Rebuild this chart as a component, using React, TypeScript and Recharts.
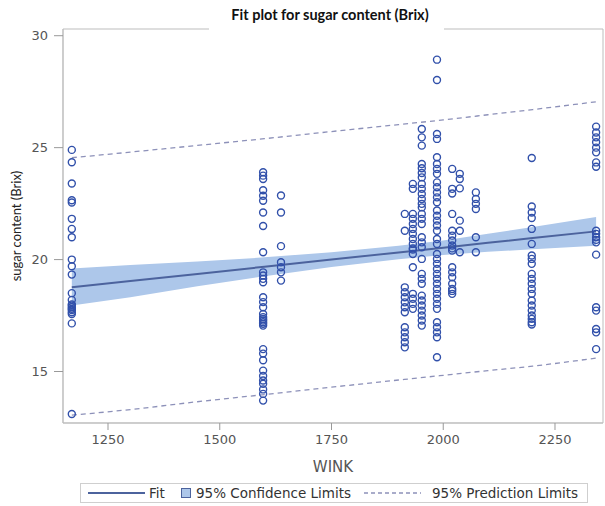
import React from "react";
import {
  ComposedChart,
  XAxis,
  YAxis,
  Area,
  Line,
  Scatter,
  ReferenceArea,
} from "recharts";

// Fitted line, confidence band and prediction limits at selected WINK values
const winkGrid = [1169, 1300, 1450, 1600, 1750, 1900, 2000, 2100, 2200, 2342];
const fitBrix = [18.76, 19.04, 19.36, 19.68, 20.0, 20.32, 20.53, 20.75, 20.96, 21.26];
const clLower = [17.95, 18.32, 18.81, 19.26, 19.67, 20.02, 20.21, 20.35, 20.46, 20.62];
const clUpper = [19.6, 19.76, 19.91, 20.1, 20.33, 20.62, 20.85, 21.15, 21.46, 21.9];
const plLower = [13.05, 13.3, 13.65, 13.97, 14.3, 14.62, 14.83, 15.04, 15.24, 15.6];
const plUpper = [24.55, 24.8, 25.1, 25.4, 25.72, 26.03, 26.24, 26.47, 26.7, 27.05];

// Observed sugar content (Brix) grouped by WINK value
const brix1169 = [24.9, 24.35, 23.4, 22.65, 22.55, 21.82, 21.37, 21.0, 20.0, 19.7, 19.33, 18.5, 18.2, 18.0, 17.95, 17.87, 17.8, 17.75, 17.65, 17.57, 17.15, 13.1];
const brix1597 = [23.9, 23.75, 23.6, 23.1, 22.85, 22.63, 22.1, 21.5, 20.33, 19.43, 19.29, 19.14, 18.99, 18.32, 18.1, 17.87, 17.57, 17.43, 17.35, 17.28, 17.2, 17.13, 17.05, 16.0, 15.8, 15.5, 15.04, 14.8, 14.6, 14.45, 14.2, 14.0, 13.7];
const brix1637 = [22.86, 22.1, 20.6, 19.88, 19.66, 19.43, 19.06];
const brix1914 = [22.04, 21.29, 18.76, 18.54, 18.32, 18.09, 17.87, 17.65, 16.98, 16.75, 16.53, 16.31, 16.08];
const brix1932 = [23.38, 23.16, 22.04, 21.82, 21.59, 21.37, 21.15, 20.92, 20.7, 20.5, 20.45, 20.25, 19.66, 18.47, 18.25, 18.02, 17.8];
const brix1952 = [25.83, 25.46, 25.09, 24.27, 24.08, 23.87, 23.67, 23.38, 23.16, 22.93, 22.71, 22.49, 22.33, 22.04, 21.82, 21.59, 21.0, 20.77, 20.55, 20.03, 19.36, 19.14, 18.92, 18.39, 18.17, 17.95, 17.72, 17.5, 17.28, 17.05];
const brix1986 = [28.93, 28.02, 25.61, 25.39, 24.57, 24.27, 24.05, 23.83, 23.45, 23.23, 23.0, 22.78, 22.56, 22.19, 21.96, 21.74, 21.52, 21.29, 20.92, 20.7, 20.25, 20.03, 19.81, 19.58, 19.36, 19.14, 18.92, 18.69, 18.47, 18.25, 18.02, 17.8, 17.2, 16.98, 16.75, 16.53, 15.64];
const brix2020 = [24.05, 23.16, 22.95, 22.04, 21.29, 21.07, 20.85, 20.63, 20.5, 20.4, 19.66, 19.43, 19.21, 18.92, 18.69, 18.6, 18.47];
const brix2037 = [23.83, 23.6, 23.18, 21.74, 21.29, 20.33];
const brix2073 = [23.0, 22.71, 22.49, 22.26, 21.0, 20.33];
const brix2198 = [24.54, 22.37, 22.1, 21.86, 21.37, 20.7, 20.18, 20.03, 19.81, 19.36, 19.14, 18.92, 18.69, 18.47, 18.17, 17.95, 17.72, 17.5, 17.35, 17.2, 17.1];
const brix2342 = [25.94, 25.68, 25.46, 25.24, 25.0, 24.79, 24.34, 24.15, 21.29, 21.15, 21.0, 20.88, 20.77, 20.22, 17.87, 17.72, 16.9, 16.75, 16.0];

const groups: [number, number[]][] = [
  [1169, brix1169],
  [1597, brix1597],
  [1637, brix1637],
  [1914, brix1914],
  [1932, brix1932],
  [1952, brix1952],
  [1986, brix1986],
  [2020, brix2020],
  [2037, brix2037],
  [2073, brix2073],
  [2198, brix2198],
  [2342, brix2342],
];

const xTicks = [1250, 1500, 1750, 2000, 2250];
const yTicks = [15, 20, 25, 30];
const xDomain = [1149.3, 2357.4];
const yDomain = [12.7, 30.3];

const bandData = winkGrid.map((w, i) => ({
  wink: w,
  fit: fitBrix[i],
  ci: [clLower[i], clUpper[i]],
  plLo: plLower[i],
  plHi: plUpper[i],
}));

const points = groups.flatMap(([w, arr]) => arr.map((b) => ({ wink: w, brix: b })));

const SANS = '"DejaVu Sans", "Liberation Sans", Arial, sans-serif';
const HUMAN = 'Lato, "Open Sans", "Liberation Sans", sans-serif';

const MARKER = "#3150AA";
const FIT = "#4C639D";
const BAND = "#ADC7EA";
const PRED = "#8D91B9";
const FRAME = "#BDBDBD";

const Ring = (props: any) => (
  <circle cx={props.cx} cy={props.cy} r={3.5} fill="none" stroke={MARKER} strokeWidth={1.4} />
);

export default function App() {
  return (
    <div style={{ position: "absolute", left: 0, top: 0, width: 605, height: 506, background: "#fff" }}>
      <ComposedChart
        width={605}
        height={506}
        data={bandData}
        margin={{ top: 29, right: 2, bottom: 0, left: 0 }}
      >
        <XAxis
          dataKey="wink"
          type="number"
          domain={xDomain}
          ticks={xTicks}
          allowDataOverflow
          height={83}
          tickSize={7}
          tickMargin={5}
          axisLine={{ stroke: FRAME }}
          tickLine={{ stroke: "#999" }}
          tick={{ fill: "#555", fontSize: 13, fontFamily: SANS }}
          label={(p: any) => {
            const vb = p.viewBox;
            return (
              <text
                x={vb.x + vb.width / 2}
                y={vb.y + 49}
                textAnchor="middle"
                fill="#555"
                fontSize={15}
                fontFamily={SANS}
              >
                WINK
              </text>
            );
          }}
        />
        <YAxis
          type="number"
          domain={yDomain}
          ticks={yTicks}
          allowDataOverflow
          width={63}
          tickSize={9}
          tickMargin={6}
          axisLine={{ stroke: FRAME }}
          tickLine={{ stroke: "#999" }}
          tick={{ fill: "#555", fontSize: 13, fontFamily: SANS }}
          label={(p: any) => {
            const vb = p.viewBox;
            const cx = 21;
            const cy = vb.y + vb.height / 2;
            return (
              <text
                x={cx}
                y={cy}
                transform={`rotate(-90, ${cx}, ${cy})`}
                textAnchor="middle"
                fill="#222"
                fontSize={13}
                fontFamily={HUMAN}
              >
                sugar content (Brix)
              </text>
            );
          }}
        />
        <ReferenceArea
          x1={xDomain[0]}
          x2={xDomain[1]}
          y1={yDomain[0]}
          y2={yDomain[1]}
          fill="none"
          stroke={FRAME}
          strokeWidth={1}
        />
        <Area
          dataKey="ci"
          type="linear"
          stroke="none"
          fill={BAND}
          fillOpacity={1}
          isAnimationActive={false}
          dot={false}
          activeDot={false}
        />
        <Line
          dataKey="fit"
          type="linear"
          stroke={FIT}
          strokeWidth={2}
          dot={false}
          activeDot={false}
          isAnimationActive={false}
        />
        <Line
          dataKey="plHi"
          type="monotone"
          stroke={PRED}
          strokeWidth={1.3}
          strokeDasharray="5 4"
          dot={false}
          activeDot={false}
          isAnimationActive={false}
        />
        <Line
          dataKey="plLo"
          type="monotone"
          stroke={PRED}
          strokeWidth={1.3}
          strokeDasharray="5 4"
          dot={false}
          activeDot={false}
          isAnimationActive={false}
        />
        <Scatter
          data={points}
          dataKey="brix"
          shape={Ring}
          isAnimationActive={false}
        />
      </ComposedChart>

      <svg
        width={605}
        height={506}
        style={{ position: "absolute", left: 0, top: 0, pointerEvents: "none" }}
      >
        {/* title over the top edge of the frame */}
        <rect x={209} y={4} width={235} height={28} fill="#fff" />
        <text
          x={330}
          y={20}
          textAnchor="middle"
          fontSize={14.5}
          fontWeight="bold"
          fill="#111"
          fontFamily={HUMAN}
        >
          Fit plot for sugar content (Brix)
        </text>

        {/* legend */}
        <rect x={80.5} y={483.5} width={507} height={19} fill="#fff" stroke="#CFCFCF" />
        <line x1={88} y1={493} x2={145} y2={493} stroke={FIT} strokeWidth={2} />
        <text x={149} y={497.5} fontSize={13.5} fill="#333" fontFamily={SANS}>
          Fit
        </text>
        <rect x={181.5} y={488.5} width={9} height={9} fill={BAND} stroke={FIT} strokeWidth={1} />
        <text x={196} y={497.5} fontSize={13.5} fill="#333" fontFamily={SANS}>
          95% Confidence Limits
        </text>
        <line
          x1={364}
          y1={493}
          x2={421}
          y2={493}
          stroke={PRED}
          strokeWidth={1.3}
          strokeDasharray="4 3"
        />
        <text x={432} y={497.5} fontSize={13.5} fill="#333" fontFamily={SANS}>
          95% Prediction Limits
        </text>
      </svg>
    </div>
  );
}
